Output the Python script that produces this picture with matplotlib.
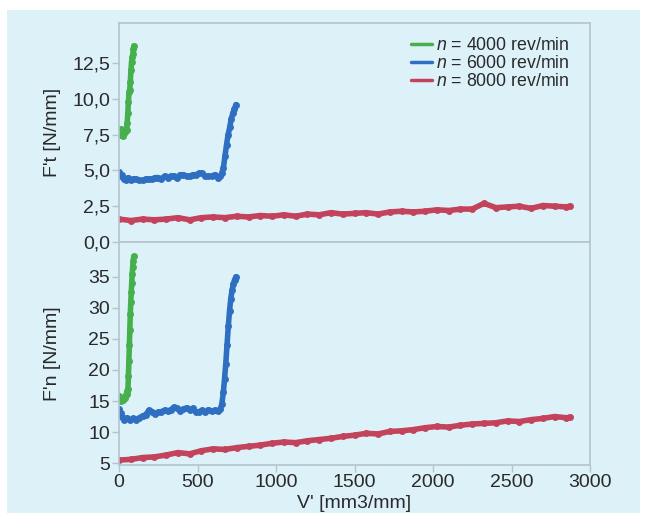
import matplotlib
matplotlib.use("Agg")
import matplotlib.pyplot as plt
from matplotlib.patches import Rectangle
from matplotlib.ticker import FuncFormatter

plt.rcParams["font.family"] = ["Liberation Sans", "DejaVu Sans"]
plt.rcParams["mathtext.fontset"] = "custom"
plt.rcParams["mathtext.rm"] = "Liberation Sans"
plt.rcParams["mathtext.it"] = "Liberation Sans:italic"

# ---------------- data ----------------
labels = ["$n$ = 4000 rev/min", "$n$ = 6000 rev/min", "$n$ = 8000 rev/min"]

g_ft_x = [3, 8, 13, 18, 23, 28, 33, 38, 43, 48, 52, 56, 60, 64, 68, 72, 76, 80, 84, 88, 92, 95]
g_ft_y = [7.7, 7.5, 7.9, 7.6, 7.4, 7.8, 7.6, 7.7, 7.9, 7.8, 8.3, 9.0, 9.8, 10.5, 10.6, 11.2,
          12.0, 12.6, 12.9, 13.1, 13.5, 13.7]

g_fn_x = [3, 8, 13, 18, 23, 28, 33, 38, 43, 48, 53, 57, 60, 63, 66, 69, 72, 75, 78, 81, 84, 87, 90, 94]
g_fn_y = [15.8, 15.2, 15.0, 15.3, 15.1, 15.4, 15.6, 15.5, 15.9, 16.2, 16.6, 17.0, 19.0, 21.5,
          24.0, 26.5, 29.0, 31.0, 32.5, 34.0, 35.5, 36.5, 37.5, 38.3]

b_ft_x = [0, 10, 20, 30, 45, 60, 75, 90, 110, 130, 150, 170, 190, 210, 230, 250, 270, 290, 310,
          330, 350, 370, 390, 410, 430, 450, 470, 490, 510, 530, 550, 570, 590, 610, 630, 645,
          655, 665, 675, 685, 695, 705, 715, 725, 735, 745]
b_ft_y = [4.9, 4.6, 4.7, 4.4, 4.3, 4.5, 4.3, 4.4, 4.4, 4.3, 4.3, 4.4, 4.4, 4.4, 4.5, 4.5, 4.4,
          4.6, 4.5, 4.6, 4.6, 4.5, 4.7, 4.7, 4.6, 4.6, 4.7, 4.7, 4.8, 4.8, 4.6, 4.6, 4.6, 4.7,
          4.5, 4.6, 4.8, 5.2, 6.0, 6.8, 7.5, 8.0, 8.6, 9.0, 9.3, 9.6]

b_fn_x = [0, 10, 20, 35, 50, 70, 90, 110, 130, 150, 170, 190, 210, 230, 250, 270, 290, 310, 330,
          350, 370, 390, 410, 430, 450, 470, 490, 510, 530, 550, 570, 590, 610, 630, 645, 655,
          665, 672, 680, 688, 696, 704, 712, 720, 728, 736, 745]
b_fn_y = [13.7, 13.0, 12.4, 12.0, 12.3, 11.9, 12.2, 12.0, 12.3, 12.6, 12.8, 13.5, 13.3, 12.9,
          13.2, 13.3, 13.5, 13.4, 13.6, 14.0, 13.8, 13.4, 13.7, 13.9, 13.6, 13.8, 13.2, 13.3,
          13.5, 13.2, 13.6, 13.4, 13.5, 13.4, 13.7, 14.5, 16.5, 18.5, 21.0, 24.0, 27.0, 29.5,
          31.5, 32.8, 33.8, 34.5, 35.0]

r_x = [0, 75, 150, 225, 300, 375, 450, 525, 600, 675, 750, 825, 900, 975, 1050, 1125, 1200,
       1275, 1350, 1425, 1500, 1575, 1650, 1725, 1800, 1875, 1950, 2025, 2100, 2175, 2250,
       2325, 2400, 2475, 2550, 2625, 2700, 2775, 2850, 2870]
r_ft_y = [1.6, 1.5, 1.6, 1.55, 1.6, 1.7, 1.55, 1.7, 1.75, 1.7, 1.8, 1.75, 1.85, 1.8, 1.9, 1.8,
          1.95, 1.9, 2.05, 1.95, 2.0, 2.05, 1.95, 2.1, 2.15, 2.1, 2.15, 2.25, 2.2, 2.3, 2.3,
          2.7, 2.4, 2.45, 2.5, 2.35, 2.55, 2.5, 2.45, 2.5]
r_fn_y = [5.5, 5.6, 5.9, 6.0, 6.3, 6.7, 6.5, 7.0, 7.3, 7.2, 7.5, 7.7, 7.9, 8.2, 8.4, 8.3, 8.6,
          8.8, 9.0, 9.3, 9.5, 9.8, 9.7, 10.1, 10.2, 10.4, 10.7, 10.9, 10.8, 11.1, 11.3, 11.4,
          11.5, 11.8, 11.7, 12.0, 12.2, 12.5, 12.3, 12.4]

ft_ticks = [0.0, 2.5, 5.0, 7.5, 10.0, 12.5]
fn_ticks = [5, 10, 15, 20, 25, 30, 35]
x_ticks = [0, 500, 1000, 1500, 2000, 2500, 3000]

# ---------------- style ----------------
GREEN = "#46b04c"
BLUE = "#2e6fc2"
RED = "#c4435c"
BG = "#ddf1f9"
SPINE = "#b3c4cc"
TXT = "#2a2a2a"
FS = 14

fig = plt.figure(figsize=(6.46, 5.13), dpi=100, facecolor="white")
fig.patches.append(Rectangle((7 / 646, 0), (640 - 7) / 646, (513 - 10) / 513,
                             transform=fig.transFigure, facecolor=BG, edgecolor="none", zorder=-10))

L, R = 119 / 646, 590 / 646
ax1 = fig.add_axes([L, 1 - 242 / 513, R - L, (242 - 23) / 513])
ax2 = fig.add_axes([L, 1 - 465 / 513, R - L, (465 - 242) / 513])

sty = dict(lw=4.0, marker="o", markersize=5.0, markeredgewidth=0,
           solid_capstyle="round", solid_joinstyle="round")
for ax in (ax1, ax2):
    ax.set_facecolor(BG)
    for s in ax.spines.values():
        s.set_color(SPINE)
        s.set_linewidth(1.2)
    ax.set_xlim(0, 3000)
    ax.tick_params(colors=SPINE, labelcolor=TXT, labelsize=FS, length=5, width=1, pad=1.5)

ax1.plot(g_ft_x, g_ft_y, color=GREEN, label=labels[0], **sty)
ax1.plot(b_ft_x, b_ft_y, color=BLUE, label=labels[1], **sty)
ax1.plot(r_x, r_ft_y, color=RED, label=labels[2], **sty)
ax1.set_ylim(0, 15.3)
ax1.set_yticks(ft_ticks)
ax1.yaxis.set_major_formatter(FuncFormatter(lambda v, p: f"{v:.1f}".replace(".", ",")))
ax1.set_xticks(x_ticks)
ax1.tick_params(axis="x", labelbottom=False, length=0)
ax1.set_ylabel("F't [N/mm]", fontsize=FS, color=TXT)
ax1.yaxis.set_label_coords(-0.123, 0.5)

ax2.plot(g_fn_x, g_fn_y, color=GREEN, **sty)
ax2.plot(b_fn_x, b_fn_y, color=BLUE, **sty)
ax2.plot(r_x, r_fn_y, color=RED, **sty)
ax2.set_ylim(4.7, 40.6)
ax2.set_yticks(fn_ticks)
ax2.set_xticks(x_ticks)
ax2.set_ylabel("F'n [N/mm]", fontsize=FS, color=TXT)
ax2.yaxis.set_label_coords(-0.123, 0.5)
ax2.set_xlabel("V' [mm3/mm]", fontsize=FS, color=TXT)
ax2.xaxis.set_label_coords(0.5, -0.135)

leg = ax1.legend(loc="upper right", bbox_to_anchor=(0.98, 0.985), frameon=False,
                 fontsize=12.8, handlelength=1.2, handletextpad=0.25, labelspacing=0.05,
                 borderaxespad=0.2)
for line in leg.get_lines():
    line.set_linewidth(2.5)
    line.set_marker("")
for t in leg.get_texts():
    t.set_color(TXT)

fig.savefig("out.png", dpi=100, facecolor=fig.get_facecolor())
